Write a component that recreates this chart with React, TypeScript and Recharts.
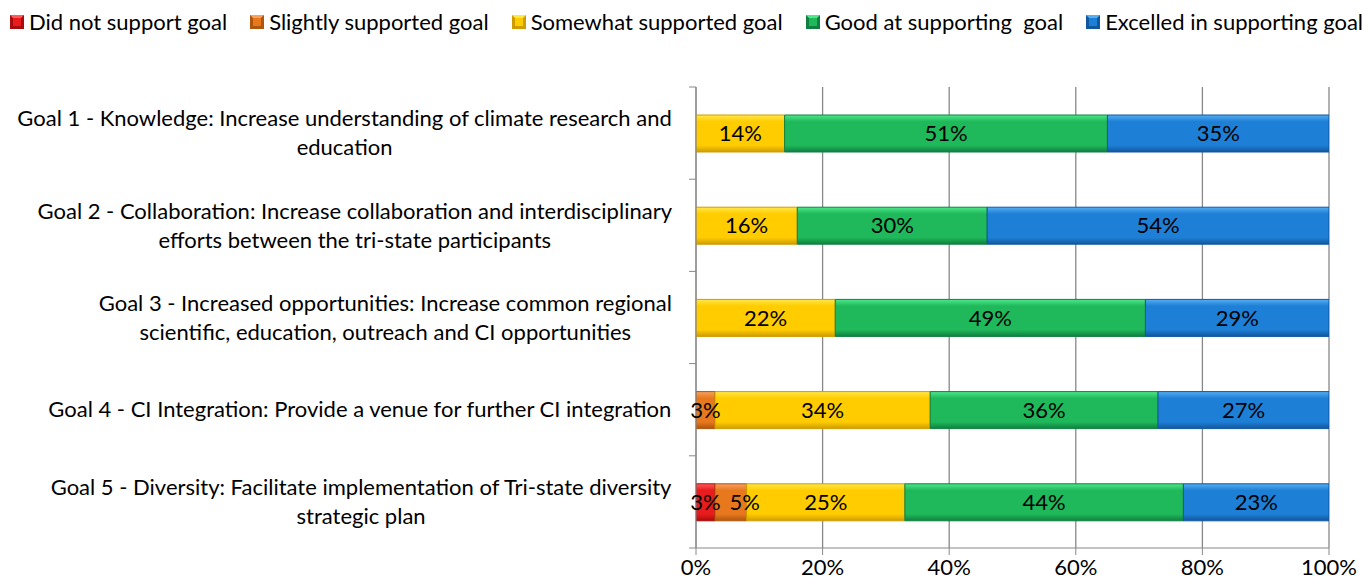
import React from 'react';
import {
    BarChart,
    Bar,
    XAxis,
    YAxis,
    CartesianGrid,
    LabelList
} from 'recharts';

// Goal categories (line breaks follow the original wrapping)
const goals = [
    'Goal 1 - Knowledge: Increase understanding of climate research and\neducation',
    'Goal 2 - Collaboration: Increase collaboration and interdisciplinary\nefforts between the tri-state participants',
    'Goal 3 - Increased opportunities: Increase common regional\nscientific, education, outreach and CI opportunities',
    'Goal 4 - CI Integration: Provide a venue for further CI integration',
    'Goal 5 - Diversity: Facilitate implementation of Tri-state diversity\nstrategic plan',
];

// percent of respondents per rating
const didNotSupport = [0, 0, 0, 0, 3];
const slightlySupported = [0, 0, 0, 3, 5];
const somewhatSupported = [14, 16, 22, 34, 25];
const goodAtSupporting = [51, 30, 49, 36, 44];
const excelledInSupporting = [35, 54, 29, 27, 23];

const xTicks = [0, 20, 40, 60, 80, 100];

const seriesInfo = [
    { key: 'didNot', name: 'Did not support goal', light: '#ff5a5a', base: '#e81c1c', dark: '#a80c0c' },
    { key: 'slightly', name: 'Slightly supported goal', light: '#f7a060', base: '#e8781e', dark: '#b0550c' },
    { key: 'somewhat', name: 'Somewhat supported goal', light: '#ffe84a', base: '#ffcc00', dark: '#cf9c00' },
    { key: 'good', name: 'Good at supporting  goal', light: '#4ee88a', base: '#1fb85a', dark: '#0f8040' },
    { key: 'excelled', name: 'Excelled in supporting goal', light: '#55aef2', base: '#1e7fd6', dark: '#11579e' },
];

const data = goals.map((g, i) => ({
    goal: g,
    didNot: didNotSupport[i],
    slightly: slightlySupported[i],
    somewhat: somewhatSupported[i],
    good: goodAtSupporting[i],
    excelled: excelledInSupporting[i],
}));

const FONT = 'Lato, "Liberation Sans", sans-serif';
const FONT_SIZE = 22;
const CHART_W = 1371;
const CHART_H = 588;
const MARGIN = { top: 87, right: 42, bottom: 0, left: 0 };
const Y_AXIS_W = 696;
const X_AXIS_H = 40;
const LABEL_RIGHT = 672;
const AXIS_COLOR = '#888888';

let measureCtx: CanvasRenderingContext2D | null = null;
const measure = (txt: string) => {
    if (!measureCtx) {
        measureCtx = document.createElement('canvas').getContext('2d');
    }
    if (!measureCtx) return txt.length * 10;
    measureCtx.font = `${FONT_SIZE}px ${FONT}`;
    return measureCtx.measureText(txt).width;
};

const plotH = CHART_H - MARGIN.top - MARGIN.bottom - X_AXIS_H;
const halfBand = plotH / goals.length / 2;

const GoalTick = (props: any) => {
    const { y, payload } = props;
    const idx = goals.indexOf(payload.value);
    const lines: string[] = String(payload.value).split('\n');
    const w = Math.max(...lines.map(measure));
    const cx = LABEL_RIGHT - w / 2;
    const lh = 29;
    const y0 = y - ((lines.length - 1) * lh) / 2;
    return (
        <g>
            <line x1={Y_AXIS_W - 7} x2={Y_AXIS_W} y1={y - halfBand} y2={y - halfBand} stroke={AXIS_COLOR} />
            {idx === goals.length - 1 && (
                <line x1={Y_AXIS_W - 7} x2={Y_AXIS_W} y1={y + halfBand} y2={y + halfBand} stroke={AXIS_COLOR} />
            )}
            <text textAnchor="middle" fill="#000" fontSize={FONT_SIZE} fontFamily={FONT}>
                {lines.map((l, i) => (
                    <tspan key={i} x={cx} y={y0 + i * lh} dy="0.35em">{l}</tspan>
                ))}
            </text>
        </g>
    );
};

const XTick = (props: any) => {
    const { x, y, payload } = props;
    return (
        <text x={x} y={y + 18} textAnchor="middle" fill="#000" fontSize={FONT_SIZE} fontFamily={FONT}>
            {`${payload.value}%`}
        </text>
    );
};

// value label; narrow segments that don't start at the axis get nudged right
const SegmentLabel = (props: any) => {
    const { x, y, width, height, value } = props;
    if (!value) return null;
    let cx = x + width / 2;
    if (width < 40 && x > Y_AXIS_W + 1) cx += width / 2 - 2;
    return (
        <text x={cx} y={y + height / 2} dy="0.35em" textAnchor="middle" fill="#000" fontSize={FONT_SIZE} fontFamily={FONT}>
            {`${value}%`}
        </text>
    );
};

const LegendSwatch = ({ s }: { s: typeof seriesInfo[number] }) => (
    <svg width={14} height={14} style={{ display: 'block' }}>
        <rect x={0} y={0} width={14} height={14} fill={s.dark} />
        <polygon points="0,0 14,0 7,7" fill={s.light} />
        <rect x={3} y={3} width={8} height={8} fill={s.base} />
    </svg>
);

const ChartLegend = () => (
    <div style={{ position: 'absolute', top: 8, left: 10, display: 'flex', gap: 23, fontFamily: FONT, fontSize: FONT_SIZE, lineHeight: '28px', color: '#000', whiteSpace: 'pre' }}>
        {seriesInfo.map(s => (
            <div key={s.key} style={{ display: 'flex', alignItems: 'center', gap: 5 }}>
                <LegendSwatch s={s} />
                <span>{s.name}</span>
            </div>
        ))}
    </div>
);

const App: React.FC = () => {
    return (
        <div style={{ margin: -8, width: CHART_W, height: CHART_H, background: '#fff', position: 'relative' }}>
            <ChartLegend />
            <BarChart
                width={CHART_W}
                height={CHART_H}
                data={data}
                layout="vertical"
                margin={MARGIN}
                barSize={37}
            >
                <defs>
                    {seriesInfo.map(s => (
                        <linearGradient key={s.key} id={`grad-${s.key}`} x1="0" y1="0" x2="0" y2="1">
                            <stop offset="0%" stopColor={s.light} />
                            <stop offset="18%" stopColor={s.base} />
                            <stop offset="82%" stopColor={s.base} />
                            <stop offset="100%" stopColor={s.dark} />
                        </linearGradient>
                    ))}
                </defs>
                <CartesianGrid vertical horizontal={false} stroke={AXIS_COLOR} strokeWidth={1.3} />
                <XAxis
                    type="number"
                    domain={[0, 100]}
                    ticks={xTicks}
                    height={X_AXIS_H}
                    stroke={AXIS_COLOR}
                    tickSize={7}
                    tick={<XTick />}
                    allowDataOverflow
                />
                <YAxis
                    type="category"
                    dataKey="goal"
                    width={Y_AXIS_W}
                    stroke={AXIS_COLOR}
                    tickLine={false}
                    tick={<GoalTick />}
                    interval={0}
                />
                {seriesInfo.map(s => (
                    <Bar
                        key={s.key}
                        dataKey={s.key}
                        name={s.name}
                        stackId="a"
                        fill={`url(#grad-${s.key})`}
                        stroke={s.dark}
                        strokeWidth={1}
                        isAnimationActive={false}
                    >
                        <LabelList dataKey={s.key} content={<SegmentLabel />} />
                    </Bar>
                ))}
            </BarChart>
        </div>
    );
};

export default App;
